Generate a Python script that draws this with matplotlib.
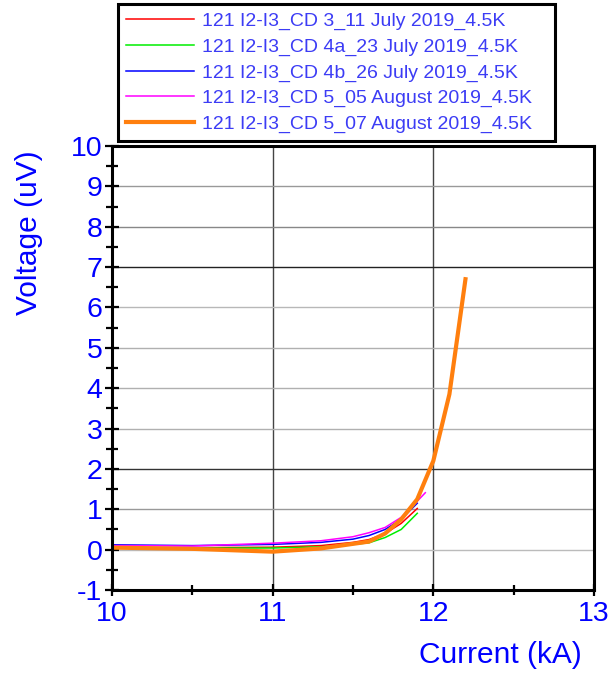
import matplotlib
matplotlib.use('Agg')
import matplotlib.pyplot as plt
from matplotlib.ticker import MultipleLocator

plt.rcParams['font.family'] = ['Liberation Sans', 'DejaVu Sans']
plt.rcParams['axes.unicode_minus'] = False

# data ==========================================================
cur_jul11 = [10.0, 10.5, 11.0, 11.3, 11.5, 11.6, 11.7, 11.8, 11.9]
v_jul11 = [0.05, 0.05, 0.06, 0.1, 0.18, 0.25, 0.4, 0.65, 1.02]

cur_jul23 = [10.0, 10.5, 11.0, 11.3, 11.5, 11.6, 11.7, 11.8, 11.9]
v_jul23 = [0.05, 0.04, 0.04, 0.07, 0.13, 0.17, 0.3, 0.5, 0.9]

cur_jul26 = [10.0, 10.5, 11.0, 11.3, 11.5, 11.6, 11.7, 11.8, 11.9]
v_jul26 = [0.12, 0.1, 0.13, 0.18, 0.26, 0.35, 0.5, 0.75, 1.15]

cur_aug05 = [10.0, 10.5, 11.0, 11.3, 11.5, 11.6, 11.7, 11.8, 11.9, 11.95]
v_aug05 = [0.1, 0.09, 0.16, 0.22, 0.32, 0.42, 0.55, 0.8, 1.2, 1.41]

cur_aug07 = [10.0, 10.5, 11.0, 11.3, 11.6, 11.7, 11.8, 11.9, 12.0, 12.1, 12.2]
v_aug07 = [0.05, 0.02, -0.05, 0.03, 0.2, 0.4, 0.75, 1.25, 2.2, 3.85, 6.7]

labels = ['121 I2-I3_CD 3_11 July 2019_4.5K',
          '121 I2-I3_CD 4a_23 July 2019_4.5K',
          '121 I2-I3_CD 4b_26 July 2019_4.5K',
          '121 I2-I3_CD 5_05 August 2019_4.5K',
          '121 I2-I3_CD 5_07 August 2019_4.5K']
#================================================================

fig = plt.figure(figsize=(6.1, 6.73), dpi=100)
ax = fig.add_axes([112/610, 1-590/673, 482/610, 444/673])

ax.plot(cur_jul11, v_jul11, color='#ff0000', lw=1.1, label=labels[0])
ax.plot(cur_jul23, v_jul23, color='#00ee00', lw=1.1, label=labels[1])
ax.plot(cur_jul26, v_jul26, color='#0000ff', lw=1.1, label=labels[2])
ax.plot(cur_aug05, v_aug05, color='#ff00ff', lw=1.1, label=labels[3])
ax.plot(cur_aug07, v_aug07, color='#ff7f0e', lw=3, label=labels[4])

ax.set_xlim(10, 13)
ax.set_ylim(-1, 10)
ax.xaxis.set_major_locator(MultipleLocator(1))
ax.xaxis.set_minor_locator(MultipleLocator(0.5))
ax.yaxis.set_major_locator(MultipleLocator(1))
ax.yaxis.set_minor_locator(MultipleLocator(0.5))

ax.tick_params(which='both', direction='inout', width=1.6, color='black',
               labelcolor='blue', labelsize=20.5)
ax.tick_params(axis='y', which='major', length=10, pad=2)
ax.tick_params(axis='y', which='minor', length=8)
ax.tick_params(axis='x', which='major', length=8, pad=4)
ax.tick_params(axis='x', which='minor', length=7)

for sp in ax.spines.values():
    sp.set_linewidth(2.2)

# grid with the uneven shades of the original
ax.grid(True, which='major', lw=1.0)
ygrid_colors = {-1: '#999999', 0: '#bbbbbb', 1: '#999999', 2: '#333333', 3: '#b0b0b0',
                4: '#b0b0b0', 5: '#b0b0b0', 6: '#b8b8b8', 7: '#222222', 8: '#888888',
                9: '#999999', 10: '#999999'}
for val, gl in zip(ax.get_yticks(), ax.yaxis.get_gridlines()):
    gl.set_color(ygrid_colors.get(int(round(val)), '#999999'))
for gl in ax.xaxis.get_gridlines():
    gl.set_color('#444444')
ax.set_axisbelow(True)

ax.set_xlabel('Current (kA)', color='blue', fontsize=21.5)
ax.xaxis.set_label_coords(0.975, -0.146)
ax.xaxis.label.set_ha('right')
ax.xaxis.label.set_va('center')

ax.set_ylabel('Voltage (uV)', color='blue', fontsize=21.5)
ax.yaxis.set_label_coords(-0.172, 0.991)
ax.yaxis.label.set_ha('right')
ax.yaxis.label.set_va('center')

# legend box sits above the axes, x 118..555 px, y 4..142 px
leg = ax.legend(loc='upper left', bbox_to_anchor=(118/610, 1-142/673, 437/610, 138/673),
                bbox_transform=fig.transFigure, mode='expand', borderaxespad=0,
                fontsize=14, handlelength=3.5, handletextpad=0.42, labelspacing=0.42,
                borderpad=0.4, fancybox=False, framealpha=1)
leg.get_frame().set_edgecolor('black')
leg.get_frame().set_linewidth(2.2)
for t in leg.get_texts():
    t.set_color('#3c3cf5')

plt.savefig('out.png', dpi=100)
